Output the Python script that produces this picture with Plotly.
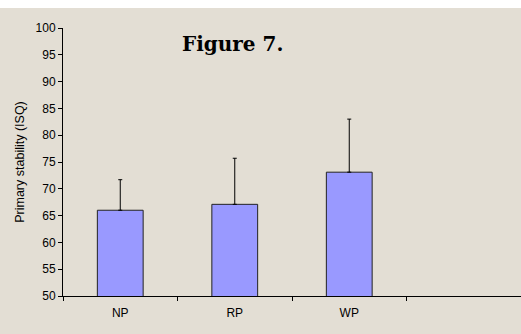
import plotly.graph_objects as go

categories = ["NP", "RP", "WP", " "]
means = [66.0, 67.1, 73.1, None]
sd_plus = [5.7, 8.6, 9.9, 0]
y_ticks = [50, 55, 60, 65, 70, 75, 80, 85, 90, 95, 100]

bg = "#E3DED4"

fig = go.Figure()
fig.add_trace(go.Bar(
    x=categories, y=means, width=0.4,
    marker=dict(color="#9999FF", line=dict(color="#222222", width=1)),
    error_y=dict(type="data", symmetric=False, array=sd_plus,
                 arrayminus=[0, 0, 0, 0], color="black", thickness=1, width=2),
))

fig.update_layout(
    width=521, height=334,
    margin=dict(l=63, r=0, t=28, b=38),
    paper_bgcolor=bg, plot_bgcolor=bg,
    showlegend=False,
    font=dict(family="Liberation Sans, Arial, sans-serif", size=12, color="black"),
    xaxis=dict(type="category", categoryorder="array", categoryarray=categories,
               range=[-0.5, 3.5], tickson="boundaries", ticks="outside", ticklen=4,
               tickcolor="black", showline=True, linecolor="black", linewidth=1,
               showgrid=False, tickfont=dict(size=12), ticklabelstandoff=6),
    yaxis=dict(range=[50, 100], tickvals=y_ticks, ticks="outside", ticklen=4,
               tickcolor="black", showline=True, linecolor="black", linewidth=1,
               showgrid=False, zeroline=False, tickfont=dict(size=12),
               title=dict(text="Primary stability (ISQ)", font=dict(size=12.5), standoff=8)),
    shapes=[dict(type="rect", xref="paper", yref="paper", x0=-0.3, x1=1.1,
                 y0=1 + 20 / 268, y1=1.3, fillcolor="white", line=dict(width=0), layer="above")],
    annotations=[dict(text="<b>Figure 7.</b>", xref="paper", yref="paper",
                      x=(232 - 63) / 458, y=(296 - 44) / 268, xanchor="center", yanchor="middle",
                      showarrow=False, font=dict(family="DejaVu Serif, serif", size=20, color="black"))],
)

fig.write_html("out.html", config={"displayModeBar": False},
               post_script="document.body.style.margin='0px';document.body.style.padding='0px';")
